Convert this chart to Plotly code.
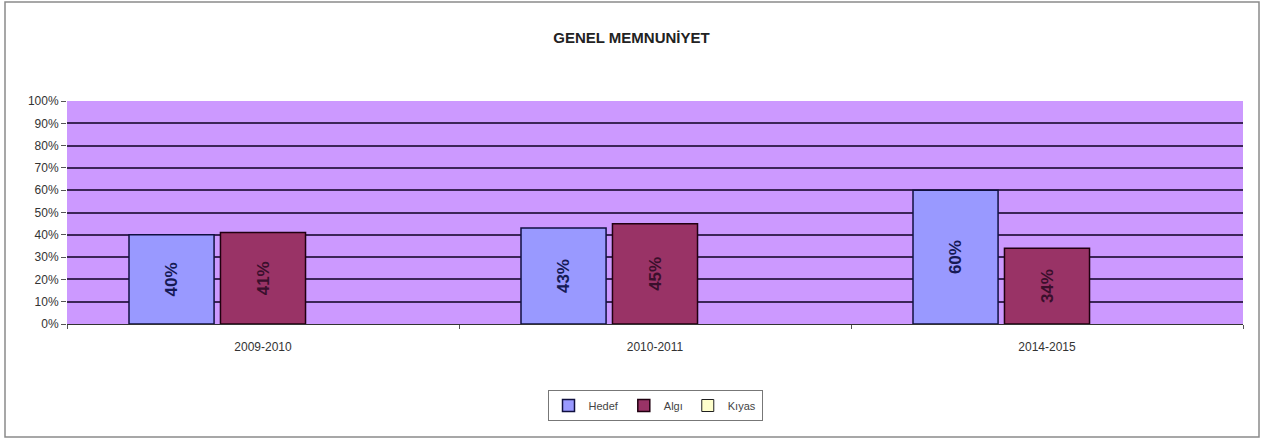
import plotly.graph_objects as go

categories = ["2009-2010", "2010-2011", "2014-2015"]
hedef = [0.40, 0.43, 0.60]
algi = [0.41, 0.45, 0.34]
kiyas = [None, None, None]
y_ticks = [i / 10 for i in range(11)]
y_tick_labels = [f"{i*10}%" for i in range(11)]

W, H = 1263, 441
L, R, T, B = 67, 20, 101, 117
pw, ph = W - L - R, H - T - B

label_font = "Liberation Sans, Arial, sans-serif"

fig = go.Figure()
fig.add_bar(name="Hedef", x=categories, y=hedef,
            marker=dict(color="#9999FF", line=dict(color="#101040", width=1.5)),
            text=[f"{round(v*100)}%" for v in hedef], textposition="inside",
            insidetextanchor="middle", textangle=-90,
            textfont=dict(family=label_font, size=17, color="#161a55", weight="bold"))
fig.add_bar(name="Algı", x=categories, y=algi,
            marker=dict(color="#993366", line=dict(color="#200010", width=1.5)),
            text=[f"{round(v*100)}%" for v in algi], textposition="inside",
            insidetextanchor="middle", textangle=-90,
            textfont=dict(family=label_font, size=17, color="#3a0f2c", weight="bold"))
fig.add_bar(name="Kıyas", x=categories, y=kiyas,
            marker=dict(color="#FFFFCC", line=dict(color="#202020", width=1)))

def px_to_paper_x(px):
    return (px - L) / pw

def px_to_paper_y(py):
    return 1 - (py - T) / ph

fig.add_shape(type="rect", xref="paper", yref="paper",
              x0=px_to_paper_x(5), x1=px_to_paper_x(1259),
              y0=px_to_paper_y(437), y1=px_to_paper_y(2),
              line=dict(color="#8a8a8a", width=1.5), fillcolor="rgba(0,0,0,0)", layer="below")

fig.update_layout(
    width=W, height=H,
    margin=dict(l=L, r=R, t=T, b=B),
    paper_bgcolor="white", plot_bgcolor="#CC99FF",
    barmode="group", bargap=0.30, bargroupgap=0.07,
    title=dict(text="<b>GENEL MEMNUNİYET</b>", x=0.5, xanchor="center", y=1 - 38 / H, yanchor="middle",
               font=dict(family="Liberation Sans Narrow, Liberation Sans, Arial, sans-serif", size=15, color="#222222")),
    font=dict(family="Liberation Sans Narrow, Liberation Sans, Arial, sans-serif", size=12, color="#333333"),
    legend=dict(orientation="h", x=0.5, xanchor="center", y=px_to_paper_y(390), yanchor="top",
                bordercolor="#777777", borderwidth=1, bgcolor="white",
                font=dict(size=11, color="#444444"), itemwidth=30),
    showlegend=True,
)
fig.update_xaxes(showline=True, linecolor="#333333", linewidth=1, ticks="outside", tickson="boundaries",
                 ticklen=4, tickcolor="#555555", showgrid=False, ticklabelstandoff=12,
                 tickfont=dict(size=12, color="#333333"))
fig.update_yaxes(range=[0, 1], tickvals=y_ticks, ticktext=y_tick_labels, showgrid=True,
                 gridcolor="#3c2558", gridwidth=1.5, ticks="outside", ticklen=5, tickcolor="#555555",
                 showline=False, zeroline=False, tickfont=dict(size=12, color="#333333"))

fig.write_html("out.html", config={"displayModeBar": False},
               post_script="document.body.style.margin='0';document.body.style.overflow='hidden';")
